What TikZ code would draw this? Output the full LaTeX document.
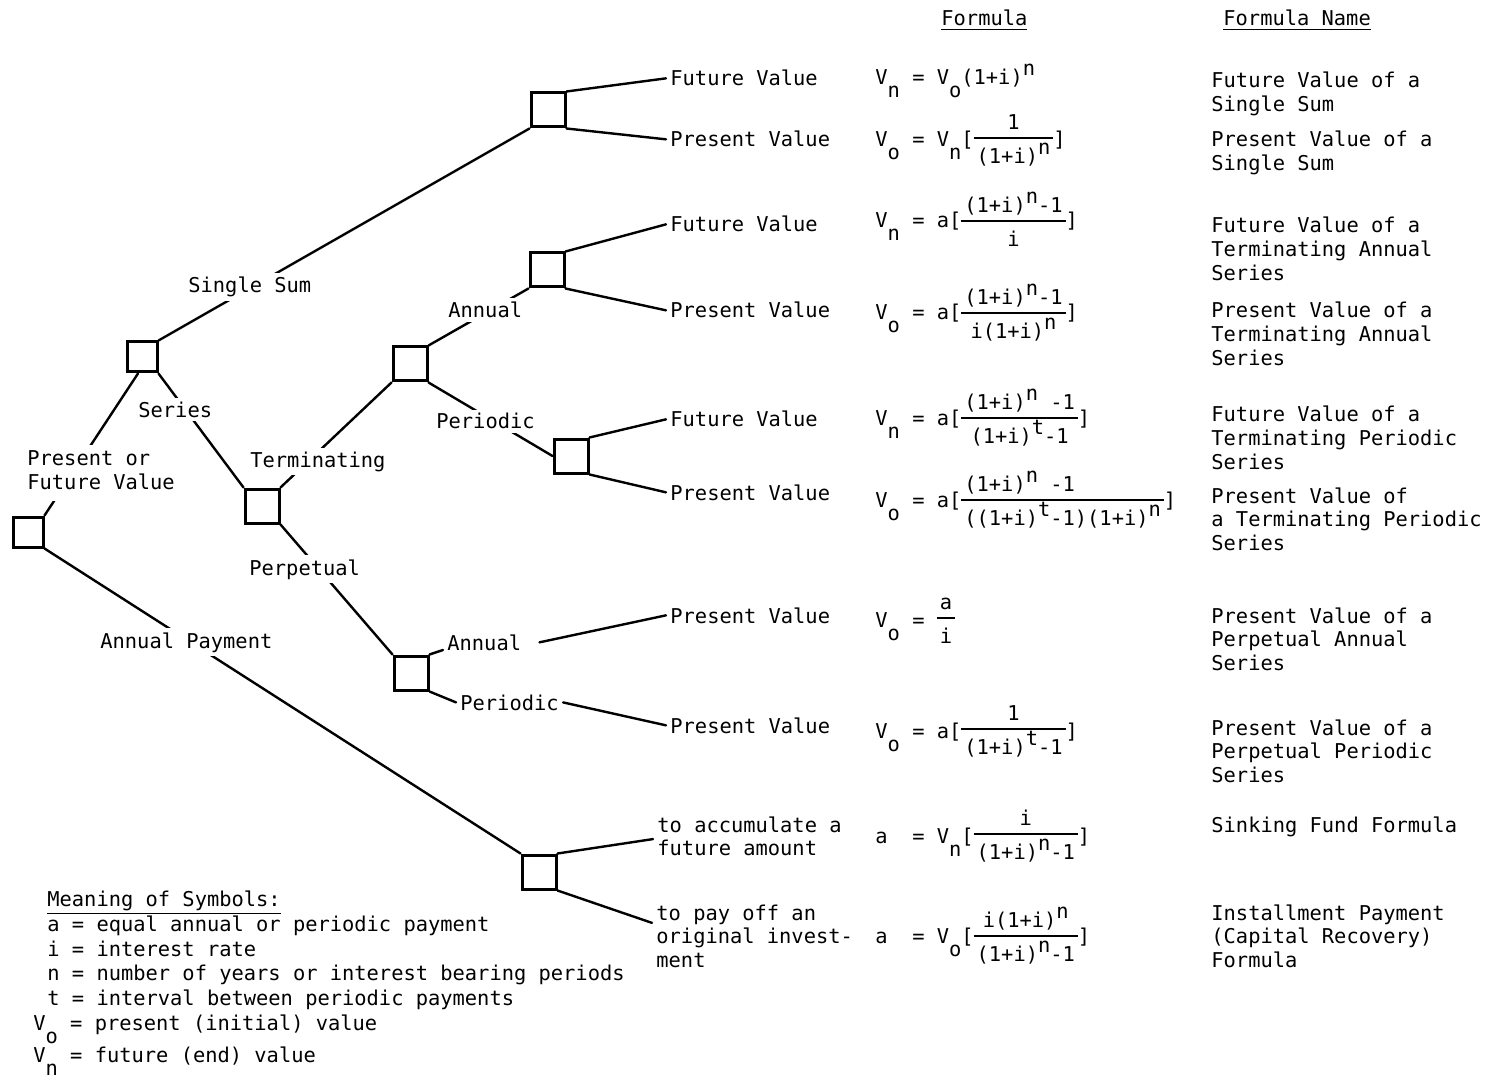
\documentclass[tikz,border=0pt]{standalone}
\usepackage{fontspec}
\setmonofont{DejaVu Sans Mono}
\usetikzlibrary{positioning}
\newcommand\lo[1]{\raisebox{-6.5pt}{#1}}
\newcommand\hi[1]{\raisebox{4.5pt}{#1}}
\newcommand\frc[3][c]{{\setlength\arrayrulewidth{0.8pt}\begin{tabular}[c]{@{\hspace{1.5pt}}#1@{\hspace{1.5pt}}}#2\\\hline\rule{0pt}{12.5pt}#3\end{tabular}}}
\newcommand\txtrows[1]{\begin{tabular}[t]{@{}l@{}}#1\end{tabular}}

\begin{document}
\begin{tikzpicture}[x=0.5pt, y=-0.5pt, line cap=round,
  font=\ttfamily\fontsize{10.2pt}{11.8pt}\selectfont,
  dbox/.style={draw, line width=1.5pt, minimum size=17pt, inner sep=0pt},
  lbl/.style={inner sep=2pt, anchor=base west},
  cut/.style={lbl, fill=white},
  link/.style={line width=1.2pt}]
\useasboundingbox (0,0) rectangle (1493,1080);
% decision boxes
\node[dbox, minimum size=15pt] (b0) at (28,532) {};
\node[dbox, minimum size=15pt] (b1) at (142,357) {};
\node[dbox] (b2) at (262,506) {};
\node[dbox] (b3) at (410,364) {};
\node[dbox] (b4) at (411,673) {};
\node[dbox] (b5) at (548,110) {};
\node[dbox] (b6) at (547,270) {};
\node[dbox] (b7) at (571,456) {};
\node[dbox] (b8) at (539,872) {};
% headings
\node[lbl] (hform) at (937,26) {\underline{Formula}};
\node[lbl] (hname) at (1219,26) {\underline{Formula Name}};
% outcomes
\node[lbl] (fv1) at (666,86) {Future Value};
\node[lbl] (pv1) at (666,147) {Present Value};
\node[lbl] (fv2) at (666,232) {Future Value};
\node[lbl] (pv2) at (666,318) {Present Value};
\node[lbl] (fv3) at (666,427) {Future Value};
\node[lbl] (pv3) at (666,500) {Present Value};
\node[lbl] (pv4) at (666,623) {Present Value};
\node[lbl] (pv5) at (666,733) {Present Value};
\node[lbl] (acc) at (653,832) {\txtrows{to accumulate a\\future amount}};
\node[lbl] (pay) at (652,920) {\txtrows{to pay off an\\original invest-\\ment}};
% formulas
\node[lbl] (f1) at (871,85) {V\lo{n} = V\lo{o}(1+i)\hi{n}};
\node[lbl] (f2) at (871,147) {V\lo{o} = V\lo{n}[\frc{1}{(1+i)\hi{n}}]};
\node[lbl] (f3) at (871,228) {V\lo{n} = a[\frc{(1+i)\hi{n}-1}{i}]};
\node[lbl] (f4) at (871,320) {V\lo{o} = a[\frc{(1+i)\hi{n}-1}{i(1+i)\hi{n}}]};
\node[lbl] (f5) at (871,425) {V\lo{n} = a[\frc{(1+i)\hi{n} -1}{(1+i)\hi{t}-1}]};
\node[lbl] (f6) at (871,507) {V\lo{o} = a[\frc[l]{(1+i)\hi{n} -1}{((1+i)\hi{t}-1)(1+i)\hi{n}}]};
\node[lbl] (f7) at (871,627) {V\lo{o} = \frc{a}{i}};
\node[lbl] (f8) at (871,738) {V\lo{o} = a[\frc{1}{(1+i)\hi{t}-1}]};
\node[lbl] (f9) at (871,843) {a~~= V\lo{n}[\frc{i}{(1+i)\hi{n}-1}]};
\node[lbl] (f10) at (871,943) {a~~= V\lo{o}[\frc{i(1+i)\hi{n}}{(1+i)\hi{n}-1}]};
% formula names
\node[lbl] (n1) at (1207,88) {\txtrows{Future Value of a\\Single Sum}};
\node[lbl] (n2) at (1207,147) {\txtrows{Present Value of a\\Single Sum}};
\node[lbl] (n3) at (1207,233) {\txtrows{Future Value of a\\Terminating Annual\\Series}};
\node[lbl] (n4) at (1207,318) {\txtrows{Present Value of a\\Terminating Annual\\Series}};
\node[lbl] (n5) at (1207,422) {\txtrows{Future Value of a\\Terminating Periodic\\Series}};
\node[lbl] (n6) at (1207,503) {\txtrows{Present Value of\\a Terminating Periodic\\Series}};
\node[lbl] (n7) at (1207,623) {\txtrows{Present Value of a\\Perpetual Annual\\Series}};
\node[lbl] (n8) at (1207,735) {\txtrows{Present Value of a\\Perpetual Periodic\\Series}};
\node[lbl] (n9) at (1207,832) {Sinking Fund Formula};
\node[lbl] (n10) at (1207,920) {\txtrows{Installment Payment\\(Capital Recovery)\\Formula}};
% legend
\node[lbl] (mean) at (43,906) {\underline{Meaning of Symbols:}};
\node[lbl] (sa) at (43,931) {a = equal annual or periodic payment};
\node[lbl] (si) at (43,956) {i = interest rate};
\node[lbl] (sn) at (43,980) {n = number of years or interest bearing periods};
\node[lbl] (st) at (43,1005) {t = interval between periodic payments};
\node[lbl] (svo) at (29,1030) {V\lo{o} = present (initial) value};
\node[lbl] (svn) at (29,1062) {V\lo{n} = future (end) value};
% perpetual branch labels
\node[lbl] (pa) at (443,650) {Annual};
\node[lbl] (pp) at (456,710) {Periodic};
% branches
\draw[link] (b0.north east) -- ([xshift=-2pt]b1.south);
\draw[link] (b0.south east) -- (b8.north west);
\draw[link] (b1.north east) -- (b5.south west);
\draw[link] (b1.south east) -- (b2.north west);
\draw[link] (b2.north east) -- (b3.south west);
\draw[link] (b2.south east) -- (b4.north west);
\draw[link] (b3.north east) -- (b6.south west);
\draw[link] (b3.south east) -- (b7.west);
\foreach \a/\b in {b5.north east/fv1.west, b5.south east/pv1.west,
    b6.north east/fv2.west, b6.south east/pv2.west,
    b7.north east/fv3.west, b7.south east/pv3.west,
    b8.north east/acc.west, b4.north east/pa.base west,
    b4.south east/pp.west, pp.east/pv5.west}
  \draw[link] (\a) -- (\b);
\draw[link] ([xshift=7pt]pa.east) -- (pv4.west);
\draw[link] (b8.south east) -- ([yshift=8pt]pay.west);
% labels sitting on the branches
\node[cut] (pfv) at (23,466) {\txtrows{Present or\\Future Value}};
\node[cut] (ss) at (184,293) {Single Sum};
\node[cut] (ser) at (134,417) {Series};
\node[cut] (term) at (246,467) {Terminating};
\node[cut] (perp) at (245,575) {Perpetual};
\node[cut] (apay) at (96,648) {Annual Payment};
\node[cut] (ta) at (444,318) {Annual};
\node[cut] (tp) at (432,429) {Periodic};
\end{tikzpicture}
\end{document}
